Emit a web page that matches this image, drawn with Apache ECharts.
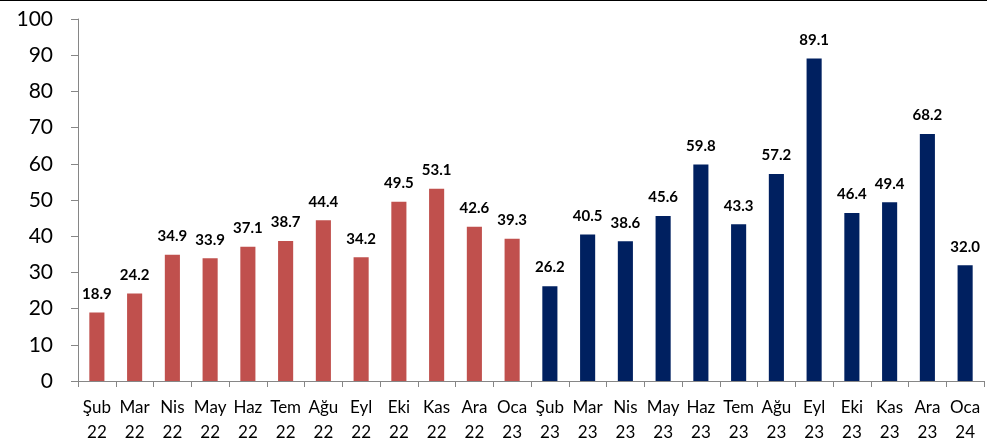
<!DOCTYPE html>
<html>
<head>
<meta charset="utf-8">
<script src="https://cdn.jsdelivr.net/npm/echarts@6/dist/echarts.min.js"></script>
<style>
  html, body { margin: 0; padding: 0; background: #fff; }
  #chart { width: 987px; height: 444px; border-top: 1px solid #000; }
</style>
</head>
<body>
<div id="chart"></div>
<script>
// ay etiketleri
const categories = [
  'Şub\n22', 'Mar\n22', 'Nis\n22', 'May\n22', 'Haz\n22', 'Tem\n22',
  'Ağu\n22', 'Eyl\n22', 'Eki\n22', 'Kas\n22', 'Ara\n22', 'Oca\n23',
  'Şub\n23', 'Mar\n23', 'Nis\n23', 'May\n23', 'Haz\n23', 'Tem\n23',
  'Ağu\n23', 'Eyl\n23', 'Eki\n23', 'Kas\n23', 'Ara\n23', 'Oca\n24'
]
const values = [
  18.9, 24.2, 34.9, 33.9, 37.1, 38.7, 44.4, 34.2, 49.5, 53.1, 42.6, 39.3,
  26.2, 40.5, 38.6, 45.6, 59.8, 43.3, 57.2, 89.1, 46.4, 49.4, 68.2, 32.0
]
// ilk 12 ay kırmızı, sonraki 12 ay lacivert
const firstPeriodCount = 12
const colors = ['#C0504D', '#002060']

const chart = echarts.init(document.getElementById('chart'))
chart.setOption({
  animation: false,
  grid: { left: 78, right: 3, top: 18, bottom: 64 },
  xAxis: {
    type: 'category',
    data: categories,
    axisLine: { lineStyle: { color: '#868686', width: 1 } },
    axisTick: { show: true, length: 6, lineStyle: { color: '#868686' } },
    axisLabel: {
      interval: 0,
      color: '#000',
      fontFamily: 'Lato',
      fontSize: 17,
      lineHeight: 25,
      margin: 14
    }
  },
  yAxis: {
    type: 'value',
    min: 0,
    max: 100,
    interval: 10,
    axisLine: { show: true, lineStyle: { color: '#868686', width: 1 } },
    axisTick: { show: true, length: 7, lineStyle: { color: '#868686' } },
    splitLine: { show: false },
    axisLabel: {
      color: '#000',
      fontFamily: 'Lato',
      fontSize: 21,
      margin: 25
    }
  },
  series: [
    {
      type: 'bar',
      data: values,
      barWidth: '40%',
      itemStyle: {
        color: (p) => (p.dataIndex < firstPeriodCount ? colors[0] : colors[1])
      },
      label: {
        show: true,
        position: 'top',
        distance: 11,
        color: '#000',
        fontFamily: 'Lato',
        fontWeight: 'bold',
        fontSize: 15,
        formatter: (p) => p.value.toFixed(1)
      }
    }
  ]
})
</script>
</body>
</html>
